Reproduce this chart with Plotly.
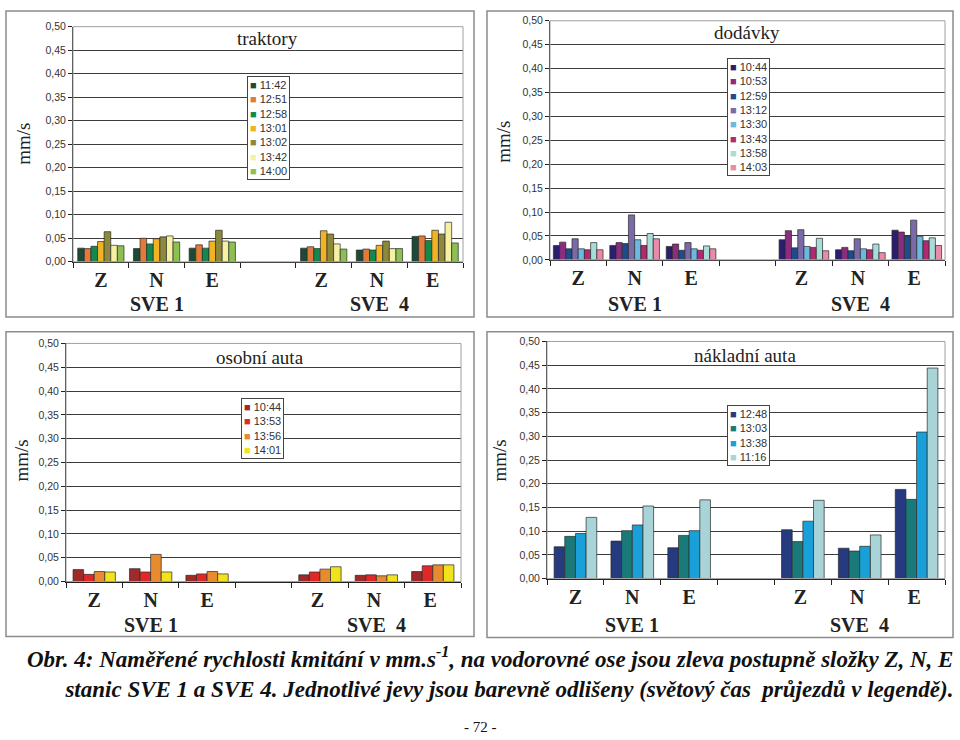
import plotly.graph_objects as go

# ---------------- data ----------------
categories = ["Z", "N", "E", " ", "Z\u00a0", "N\u00a0", "E\u00a0"]
station_labels = ["SVE 1", "SVE&nbsp;&nbsp;4"]

# values per series: SVE1 Z,N,E then SVE4 Z,N,E  (mm/s)
trak_names = ["11:42", "12:51", "12:58", "13:01", "13:02", "13:42", "14:00"]
trak_colors = ["#1d4a34", "#e07b39", "#14894f", "#f0b323", "#8c8a3a", "#f6f0a2", "#8cc152"]
trak_11_42 = [0.029, 0.028, 0.029, 0.029, 0.025, 0.054]
trak_12_51 = [0.028, 0.050, 0.036, 0.032, 0.027, 0.055]
trak_12_58 = [0.033, 0.038, 0.029, 0.028, 0.025, 0.045]
trak_13_01 = [0.043, 0.049, 0.044, 0.066, 0.035, 0.067]
trak_13_02 = [0.064, 0.053, 0.067, 0.059, 0.044, 0.059]
trak_13_42 = [0.035, 0.055, 0.044, 0.038, 0.028, 0.084]
trak_14_00 = [0.034, 0.042, 0.042, 0.027, 0.028, 0.040]

dod_names = ["10:44", "10:53", "12:59", "13:12", "13:30", "13:43", "13:58", "14:03"]
dod_colors = ["#2a1f6c", "#8b2c7c", "#1f4a8c", "#7a6aa8", "#6cb8e0", "#b02a70", "#a8dcd8", "#e88aa8"]
dod_10_44 = [0.030, 0.030, 0.028, 0.042, 0.021, 0.062]
dod_10_53 = [0.037, 0.036, 0.033, 0.061, 0.026, 0.058]
dod_12_59 = [0.023, 0.034, 0.020, 0.025, 0.019, 0.050]
dod_13_12 = [0.044, 0.094, 0.036, 0.063, 0.044, 0.083]
dod_13_30 = [0.023, 0.042, 0.023, 0.028, 0.023, 0.049]
dod_13_43 = [0.021, 0.030, 0.020, 0.026, 0.021, 0.040]
dod_13_58 = [0.036, 0.055, 0.029, 0.045, 0.033, 0.046]
dod_14_03 = [0.021, 0.044, 0.023, 0.019, 0.015, 0.030]

os_names = ["10:44", "13:53", "13:56", "14:01"]
os_colors = ["#9e2a2a", "#e02828", "#e88a30", "#f2e21e"]
os_10_44 = [0.025, 0.027, 0.013, 0.014, 0.013, 0.021]
os_13_53 = [0.015, 0.020, 0.016, 0.020, 0.014, 0.033]
os_13_56 = [0.021, 0.057, 0.021, 0.026, 0.012, 0.035]
os_14_01 = [0.020, 0.020, 0.016, 0.031, 0.014, 0.035]

nak_names = ["12:48", "13:03", "13:38", "11:16"]
nak_colors = ["#263a80", "#1a7a7a", "#1aa0d8", "#a8d4d8"]
nak_12_48 = [0.067, 0.079, 0.065, 0.103, 0.064, 0.188]
nak_13_03 = [0.089, 0.101, 0.091, 0.078, 0.058, 0.167]
nak_13_38 = [0.095, 0.113, 0.101, 0.121, 0.068, 0.309]
nak_11_16 = [0.129, 0.153, 0.166, 0.165, 0.092, 0.444]

y_ticks = [0.0, 0.05, 0.10, 0.15, 0.20, 0.25, 0.30, 0.35, 0.40, 0.45, 0.50]

SERIF = "Liberation Serif"
SANS = "Liberation Sans"

panels = [
    dict(title="traktory", names=trak_names, colors=trak_colors,
         series=[trak_11_42, trak_12_51, trak_12_58, trak_13_01, trak_13_02, trak_13_42, trak_14_00],
         plot=(73, 463, 21, 260), box=(6, 474, 5, 316), group=0.83,
         title_pos=(267, 33), legend_pos=(247, 71), ytitle=(24, 140), sve_y=303),
    dict(title="dodávky", names=dod_names, colors=dod_colors,
         series=[dod_10_44, dod_10_53, dod_12_59, dod_13_12, dod_13_30, dod_13_43, dod_13_58, dod_14_03],
         plot=(550, 945, 15, 258), box=(487, 953, 5, 316), group=0.88,
         title_pos=(747, 27), legend_pos=(727, 53), ytitle=(504, 138), sve_y=303),
    dict(title="osobní auta", names=os_names, colors=os_colors,
         series=[os_10_44, os_13_53, os_13_56, os_14_01],
         plot=(66, 461, 343, 585), box=(6, 474, 331, 641), group=0.75,
         title_pos=(260, 357), legend_pos=(241, 398), ytitle=(22, 462), sve_y=629),
    dict(title="nákladní auta", names=nak_names, colors=nak_colors,
         series=[nak_12_48, nak_13_03, nak_13_38, nak_11_16],
         plot=(547, 945, 341, 582), box=(487, 953, 331, 642), group=0.75,
         title_pos=(745, 355), legend_pos=(727, 406), ytitle=(500, 462), sve_y=629),
]

W, H = 960, 740
fx = lambda px: px / W
fy = lambda py: 1 - py / H

fig = go.Figure()
annotations = []
shapes = []
layout_axes = {}

for k, p in enumerate(panels, start=1):
    xa = "x" if k == 1 else f"x{k}"
    ya = "y" if k == 1 else f"y{k}"
    n = len(p["series"])
    bw = p["group"] / n
    for i, (name, col, vals) in enumerate(zip(p["names"], p["colors"], p["series"])):
        yv = list(vals[:3]) + [None] + list(vals[3:])
        fig.add_trace(go.Bar(
            x=categories, y=yv, name=name, xaxis=xa, yaxis=ya,
            marker=dict(color=col, line=dict(color="#2a2a2a", width=0.7)),
            width=bw, offset=-p["group"] / 2 + i * bw, showlegend=False,
        ))
    x0, x1, y0, y1 = p["plot"]
    xkey = "xaxis" if k == 1 else f"xaxis{k}"
    ykey = "yaxis" if k == 1 else f"yaxis{k}"
    layout_axes[xkey] = dict(
        domain=[fx(x0), fx(x1)], anchor=ya, type="category",
        categoryorder="array", categoryarray=categories, range=[-0.5, 6.5],
        tickson="boundaries", ticks="outside", ticklen=5, tickcolor="#222",
        showline=True, linecolor="#222", linewidth=1, showgrid=False,
        tickfont=dict(family=SERIF, size=20, color="#222", weight="bold"),
        fixedrange=True,
    )
    layout_axes[ykey] = dict(
        domain=[fy(y1), fy(y0)], anchor=xa, range=[0, 0.5],
        tickvals=y_ticks, tickformat=".2f", ticks="outside", ticklen=4, tickcolor="#222",
        showline=True, linecolor="#222", linewidth=1,
        showgrid=True, gridcolor="#3c3c3c", gridwidth=1,
        tickfont=dict(family=SANS, size=10.5, color="#333"),
        zeroline=False, fixedrange=True,
    )
    # panel border
    bx0, bx1, by0, by1 = p["box"]
    shapes.append(dict(type="rect", xref="paper", yref="paper",
                       x0=fx(bx0), x1=fx(bx1), y0=fy(by1), y1=fy(by0),
                       line=dict(color="#8c8c8c", width=1.5), layer="below"))
    # plot-area frame (light)
    shapes.append(dict(type="rect", xref=f"{xa} domain", yref=f"{ya} domain",
                       x0=0, x1=1, y0=0, y1=1, line=dict(color="#a0a0a0", width=1)))
    # title inside
    tx, ty = p["title_pos"]
    annotations.append(dict(text=p["title"], xref="paper", yref="paper", x=fx(tx), y=fy(ty),
                            xanchor="center", yanchor="middle", showarrow=False,
                            font=dict(family=SERIF, size=19, color="#222")))
    # y-axis title
    ax_, ay_ = p["ytitle"]
    annotations.append(dict(text="mm/s", xref="paper", yref="paper", x=fx(ax_), y=fy(ay_),
                            xanchor="center", yanchor="middle",
                            textangle=-90, showarrow=False,
                            font=dict(family=SERIF, size=19, color="#222")))
    # station labels
    for ci, lab in zip([1, 5], station_labels):
        annotations.append(dict(text=f"<b>{lab}</b>", xref=xa, yref="paper", x=ci, y=fy(p["sve_y"]),
                                xanchor="center", yanchor="middle", showarrow=False,
                                font=dict(family=SERIF, size=20, color="#222")))
    # compact legend box
    lx, ly = p["legend_pos"]
    lines = [f"<span style='color:{c}'>■</span> {nm}" for nm, c in zip(p["names"], p["colors"])]
    annotations.append(dict(text="<br>".join(lines), xref="paper", yref="paper",
                            x=fx(lx), y=fy(ly), xanchor="left", yanchor="top", align="left",
                            showarrow=False, bordercolor="#444", borderwidth=1, borderpad=2,
                            bgcolor="white",
                            font=dict(family=SANS, size=11, color="#333")))

# caption (two lines in one text block, right-aligned like the reference)
cap1 = ("Obr. 4: Naměřené rychlosti kmitání v mm.s<sup>-1</sup>, na vodorovné ose jsou "
        "zleva postupně složky Z, N, E")
cap2 = ("stanic SVE 1 a SVE 4. Jednotlivé jevy jsou barevně odlišeny "
        "(světový čas  průjezdů v legendě).")
annotations.append(dict(text=f"<b><i>{cap1}<br>{cap2}</i></b>", xref="paper", yref="paper",
                        x=fx(955), y=fy(677), xanchor="right", yanchor="middle", align="right",
                        showarrow=False,
                        font=dict(family=SERIF, size=23, color="#111")))
annotations.append(dict(text="- 72 -", xref="paper", yref="paper", x=fx(480), y=fy(733),
                        xanchor="center", yanchor="middle", showarrow=False,
                        font=dict(family=SERIF, size=15, color="#111")))

fig.update_layout(
    width=W, height=H, margin=dict(l=0, r=0, t=0, b=0),
    paper_bgcolor="white", plot_bgcolor="white",
    barmode="overlay", separators=", ",
    annotations=annotations, shapes=shapes, showlegend=False,
    **layout_axes,
)

fig.write_html("out.html", config={"displayModeBar": False},
               post_script="document.body.style.margin='0';document.body.style.overflow='hidden';")
